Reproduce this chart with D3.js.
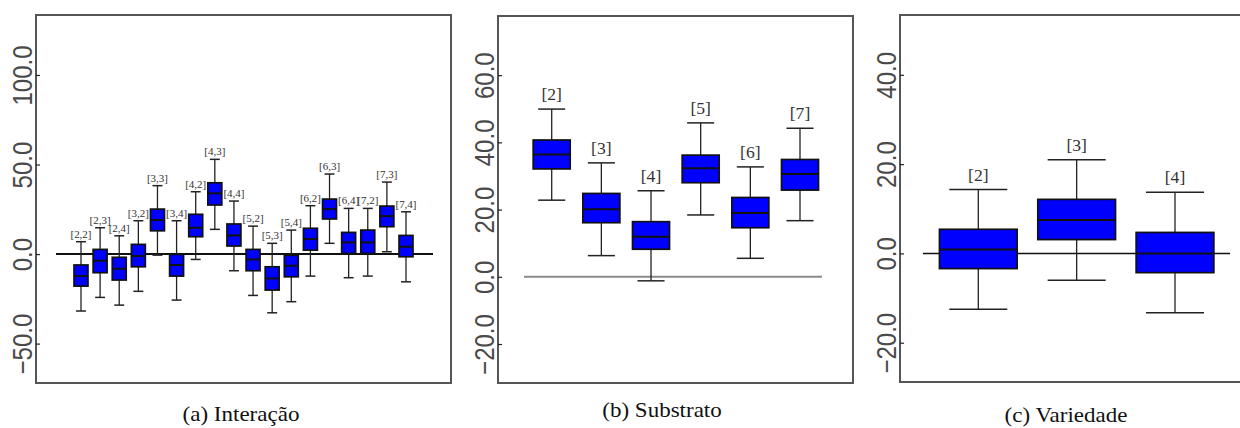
<!DOCTYPE html>
<html>
<head>
<meta charset="utf-8">
<script src="https://cdn.jsdelivr.net/npm/d3@7"></script>
<style>
  body { margin: 0; background: #fff; }
  svg { display: block; }
  .serif { font-family: 'Liberation Serif', 'DejaVu Serif', serif; }
  .sans { font-family: 'Liberation Sans', 'DejaVu Sans', sans-serif; }
</style>
</head>
<body>
<div id="chart"></div>
<script>
// (a) Interação
const labelsA = ['[2,2]','[2,3]','[2,4]','[3,2]','[3,3]','[3,4]','[4,2]','[4,3]','[4,4]',
                 '[5,2]','[5,3]','[5,4]','[6,2]','[6,3]','[6,4]','[7,2]','[7,3]','[7,4]'];
const lowA = [-31.8,-24.2,-28.5,-20.8,-0.6,-25.7,-3.0,13.8,-9.3,-23.1,-32.8,-26.6,-12.3,6.0,-13.2,-12.3,1.3,-15.5];
const q1A  = [-17.9,-10.4,-14.5,-7.1,13.0,-12.3,9.7,27.4,4.5,-9.3,-20.1,-12.7,2.2,19.6,0.4,0.4,15.3,-1.5];
const medA = [-12.3,-3.7,-8.2,-1.1,19.0,-6.1,14.7,33.9,10.4,-3.0,-13.6,-6.5,8.4,25.1,6.5,6.5,21.2,4.1];
const q3A  = [-6.1,2.6,-1.8,5.4,25.1,-0.2,22.2,39.8,16.8,2.6,-7.1,-0.7,14.4,30.7,12.1,13.4,26.8,10.4];
const highA = [6.9,14.7,10.2,18.6,38.2,18.6,34.8,52.9,29.6,15.6,6.0,13.4,27.0,44.7,25.5,25.5,40.2,23.6];
const ticksA = [-50, 0, 50, 100];

// (b) Substrato
const labelsB = ['[2]','[3]','[4]','[5]','[6]','[7]'];
const lowB = [22.8,6.3,-1.2,18.4,5.5,16.7];
const q1B  = [32.1,16.1,8.2,28.0,14.6,25.8];
const medB = [36.4,20.1,11.9,32.3,19.0,30.6];
const q3B  = [40.7,24.8,16.4,36.2,23.6,34.9];
const highB = [49.9,33.9,25.6,45.8,32.7,44.2];
const ticksB = [-20, 0, 20, 40, 60];

// (c) Variedade
const labelsC = ['[2]','[3]','[4]'];
const lowC = [-12.5,-6.0,-13.3];
const q1C  = [-3.4,3.1,-4.3];
const medC = [0.9,7.5,0.0];
const q3C  = [5.4,12.1,4.7];
const highC = [14.3,21.0,13.7];
const ticksC = [-20, 0, 20, 40];

const width = 1240, height = 428;

const svg = d3.select('#chart').append('svg')
  .attr('width', width)
  .attr('height', height);

const panels = [
  { labels: labelsA, low: lowA, q1: q1A, med: medA, q3: q3A, high: highA, ticks: ticksA,
    x0: 36, x1: 451, y0: 15, y1: 383, domain: [-72, 133.5], xr: [81, 406],
    boxW: 0.73, capW: 0.52, line: [56, 433], lineColor: '#111', lineW: 2,
    lblSize: 10, lblOff: 4, caption: '(a) Interação', capX: 241, capY: 421 },
  { labels: labelsB, low: lowB, q1: q1B, med: medB, q3: q3B, high: highB, ticks: ticksB,
    x0: 498, x1: 853, y0: 16, y1: 383, domain: [-31.6, 77.6], xr: [551.7, 800],
    boxW: 0.745, capW: 0.545, line: [524, 822], lineColor: '#8a8a8a', lineW: 2,
    lblSize: 16, lblOff: 9, caption: '(b) Substrato', capX: 662, capY: 417 },
  { labels: labelsC, low: lowC, q1: q1C, med: medC, q3: q3C, high: highC, ticks: ticksC,
    x0: 900, x1: 1243, y0: 15, y1: 382, domain: [-28.8, 53.4], xr: [978.3, 1175],
    boxW: 0.79, capW: 0.59, line: [923, 1230], lineColor: '#111', lineW: 1.5,
    lblSize: 16, lblOff: 9, caption: '(c) Variedade', capX: 1066, capY: 422 }
];

panels.forEach(p => {

  const g = svg.append('g');

  const y = d3.scaleLinear().domain(p.domain).range([p.y1, p.y0]);
  const x = d3.scalePoint().domain(p.labels).range(p.xr);
  const step = p.labels.length > 1 ? (p.xr[1] - p.xr[0]) / (p.labels.length - 1) : 50;
  const bw = step * p.boxW, cw = step * p.capW;

  // frame
  g.append('rect')
    .attr('x', p.x0).attr('y', p.y0)
    .attr('width', p.x1 - p.x0).attr('height', p.y1 - p.y0)
    .attr('fill', 'none')
    .attr('stroke', '#555')
    .attr('stroke-width', 2);

  // y axis, ticks pointing inwards, labels rotated
  const axis = g.append('g')
    .attr('transform', `translate(${p.x0},0)`)
    .call(d3.axisLeft(y).tickValues(p.ticks).tickSize(-4).tickFormat(d3.format('.1f')))
    .attr('font-family', null)
    .attr('font-size', null);

  axis.select('.domain').remove();
  axis.selectAll('.tick line').attr('stroke', '#222').attr('stroke-width', 1.2);
  axis.selectAll('.tick text')
    .attr('x', null).attr('dy', null)
    .attr('class', 'sans')
    .attr('transform', 'translate(-4,0) scale(1.15,1) rotate(-90)')
    .attr('text-anchor', 'middle')
    .attr('fill', '#4a4a4a')
    .attr('font-size', 24);

  // zero reference line
  g.append('line')
    .attr('x1', p.line[0]).attr('x2', p.line[1])
    .attr('y1', y(0)).attr('y2', y(0))
    .attr('stroke', p.lineColor)
    .attr('stroke-width', p.lineW);

  const rows = p.labels.map((l, i) => ({ label: l, low: p.low[i], q1: p.q1[i], med: p.med[i], q3: p.q3[i], high: p.high[i] }));

  const box = g.selectAll('.box')
    .data(rows)
    .enter()
    .append('g')
    .attr('class', 'box');

  box.append('line')
    .attr('x1', d => x(d.label)).attr('x2', d => x(d.label))
    .attr('y1', d => y(d.low)).attr('y2', d => y(d.high))
    .attr('stroke', '#222').attr('stroke-width', 1.3);

  box.selectAll('.cap')
    .data(d => [[d.label, d.low], [d.label, d.high]])
    .enter()
    .append('line')
    .attr('x1', d => x(d[0]) - cw / 2).attr('x2', d => x(d[0]) + cw / 2)
    .attr('y1', d => y(d[1])).attr('y2', d => y(d[1]))
    .attr('stroke', '#222').attr('stroke-width', 1.5);

  box.append('rect')
    .attr('x', d => x(d.label) - bw / 2)
    .attr('y', d => y(d.q3))
    .attr('width', bw)
    .attr('height', d => y(d.q1) - y(d.q3))
    .attr('fill', '#0000ff')
    .attr('stroke', '#111')
    .attr('stroke-width', 1.7);

  box.append('line')
    .attr('x1', d => x(d.label) - bw / 2).attr('x2', d => x(d.label) + bw / 2)
    .attr('y1', d => y(d.med)).attr('y2', d => y(d.med))
    .attr('stroke', '#111').attr('stroke-width', 2);

  box.append('text')
    .attr('class', 'serif')
    .attr('transform', d => `translate(${x(d.label)},${y(d.high) - p.lblOff}) scale(1.1,1)`)
    .attr('text-anchor', 'middle')
    .attr('fill', '#333')
    .attr('font-size', p.lblSize)
    .text(d => d.label);

  // caption
  g.append('text')
    .attr('class', 'serif')
    .attr('transform', `translate(${p.capX},${p.capY}) scale(1.15,1)`)
    .attr('text-anchor', 'middle')
    .attr('fill', '#111')
    .attr('font-size', 20)
    .text(p.caption);
});
</script>
</body>
</html>
